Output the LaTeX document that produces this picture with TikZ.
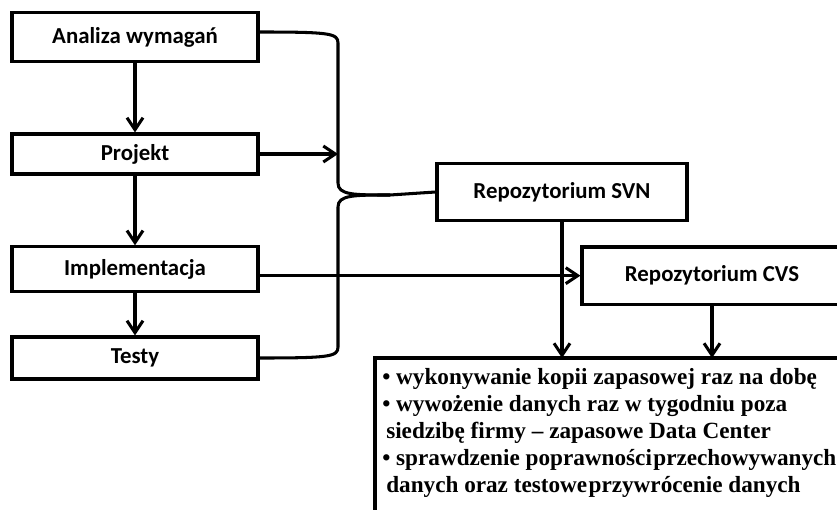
\documentclass[tikz,border=0pt]{standalone}
\usepackage{fontspec}
\setmainfont{Carlito}
\newfontfamily\notefont{Liberation Serif}
\usetikzlibrary{arrows.meta}
\begin{document}
\begin{tikzpicture}[
    box/.style={rectangle, draw=black, line width=2.6pt, minimum width=7.38cm,
      font=\fontsize{19.5}{23}\selectfont\bfseries, inner sep=0pt},
    repo/.style={box, minimum height=1.72cm},
    conn/.style={line width=2.6pt},
    arr/.style={conn, -{Straight Barb[length=3.6mm,width=4.8mm,line width=2.6pt]}}
  ]
    \useasboundingbox (0,0) rectangle (25.11,-15.3);
    % etapy
    \node[box, minimum height=1.47cm] (analiza) at (4.05,-1.11) {Analiza wymagań};
    \node[box, minimum height=1.2cm] (projekt) at (4.05,-4.62) {Projekt};
    \node[box, minimum height=1.35cm] (impl) at (4.05,-8.08) {Implementacja};
    \node[box, minimum height=1.26cm] (testy) at (4.05,-10.74) {Testy};
    % repozytoria
    \node[repo, minimum width=7.5cm] (svn) at (16.86,-5.76) {Repozytorium SVN};
    \node[repo, minimum width=7.8cm] (cvs) at (21.36,-8.27) {Repozytorium CVS};
    \node[rectangle, anchor=north west, align=left, inner xsep=6pt, inner ysep=9pt,
      font=\notefont\bfseries\fontsize{19.8}{23}\selectfont] (uwagi) at (11.25,-10.74) {%
      \textbullet\ wykonywanie kopii zapasowej raz na dobę\\
      \textbullet\ wywożenie danych raz w tygodniu poza\\
      \hspace{0.12cm}siedzibę firmy – zapasowe Data Center\\
      \textbullet\ sprawdzenie poprawności\hspace{0.06em}przechowywanych\\
      \hspace{0.12cm}danych oraz testowe\hspace{0.06em}przywrócenie danych};
    \draw[conn] (uwagi.north west) rectangle ++(16,-6);
    \coordinate (bx) at (10.14,0);
    % przejscia
    \draw[arr] (analiza) -- (projekt);
    \draw[arr] (projekt) -- (impl);
    \draw[arr] (impl) -- (testy);
    % klamra
    \draw[conn] ([yshift=0.15cm]analiza.east) .. controls (9.9,-0.96) and (10.14,-1.0) .. (10.14,-1.29)
      -- (10.14,-5.49) .. controls (10.14,-5.85) and (10.6,-5.85) .. (11.7,-5.85) -- (svn.west);
    \draw[conn] (testy.east) .. controls (9.9,-10.74) and (10.14,-10.7) .. (10.14,-10.41)
      -- (10.14,-6.21) .. controls (10.14,-5.85) and (10.6,-5.85) .. (11.7,-5.85);
    \draw[arr] (projekt.east) -- (projekt.east -| bx);
    \draw[arr] (impl.east |- cvs.west) -- (cvs.west);
    \draw[arr] (svn.south) -- (svn.south |- uwagi.north);
    \draw[arr] (cvs.south) -- (cvs.south |- uwagi.north);
  \end{tikzpicture}
\end{document}
